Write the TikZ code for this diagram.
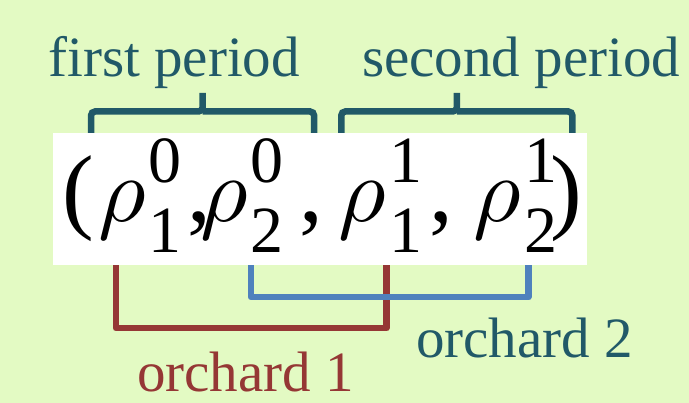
\documentclass[tikz,border=0pt]{standalone}
\usepackage{fontspec}
\usepackage{graphicx}
\setmainfont{Liberation Serif}
\usetikzlibrary{positioning,calc}
\definecolor{bggreen}{HTML}{E3FAC3}
\definecolor{periodteal}{HTML}{215968}
\definecolor{orchardred}{HTML}{953735}
\definecolor{orchardblue}{HTML}{4F81BD}
\newcommand{\scr}{\fontsize{66}{66}\selectfont}
\newcommand{\rhoterm}[2]{\scalebox{9.2}{\fontsize{10}{12}\selectfont$\rho$}\hspace{3pt}%
  \rlap{\raisebox{39pt}{\scr #2}}\raisebox{-31pt}{\scr #1}}

\begin{document}
\begin{tikzpicture}[x=1pt,y=-1pt,
    words/.style={font=\fontsize{57}{60}\selectfont, inner sep=0pt, anchor=base west},
    part/.style={font=\fontsize{95}{100}\selectfont, inner sep=0pt, anchor=base west},
    brace/.style={line width=6.5pt, periodteal, rounded corners=4pt},
    link/.style={line width=6.5pt, line join=round}]

  \useasboundingbox (0,0) rectangle (689,403);
  \fill[bggreen] (0,0) rectangle (689,403);

  % ---- the white strip with the vector ----
  \node[fill=white, minimum width=534pt, minimum height=132pt, inner sep=0pt]
    (box) at (320,199) {};
  \node[part] (lp)  at (62,222) {(};
  \node[part] (r10) at ([xshift=4pt]lp.base east)    {\rhoterm{1}{0}};
  \node[part] (c1)  at ([xshift=5pt]r10.base east)   {,};
  \node[part] (r20) at ([xshift=-11pt]c1.base east)  {\rhoterm{2}{0}};
  \node[part] (c2)  at ([xshift=15pt]r20.base east)  {,};
  \node[part] (r11) at ([xshift=15pt]c2.base east)   {\rhoterm{1}{1}};
  \node[part] (c3)  at ([xshift=7pt]r11.base east)   {,};
  \node[part] (r21) at ([xshift=20pt]c3.base east)   {\rhoterm{2}{1}};
  \node[part] (rp)  at ([xshift=-7pt]r21.base east)  {)};

  % ---- periods above ----
  \node[words, periodteal] (first)  at (48,77)  {first period};
  \node[words, periodteal] (second) at (362,77) {second period};
  \coordinate (b1l) at ([xshift=-7pt]r10.west |- box.north);
  \coordinate (b1r) at ([xshift=15pt]c2.west |- box.north);
  \coordinate (b2l) at ([xshift=3pt]r11.west |- box.north);
  \coordinate (b2r) at ([xshift=-10pt]rp.east |- box.north);
  \coordinate (t1) at ($(b1l)!0.5!(b1r)$);
  \coordinate (t2) at ($(b2l)!0.5!(b2r)$);
  \draw[brace] (b1l) |- (t1 |- 0,111.5) -- (t1 |- 0,93);
  \draw[brace] (b1r) |- (t1 |- 0,111.5);
  \draw[brace] (b2l) |- (t2 |- 0,111.5) -- (t2 |- 0,93);
  \draw[brace] (b2r) |- (t2 |- 0,111.5);

  % ---- orchards below ----
  \draw[link, orchardred] ([xshift=18pt]r10.west |- box.south) -- ++(0,63)
    -| ([xshift=48pt]r11.west |- box.south);
  \draw[link, orchardblue] ([xshift=51pt]r20.west |- box.south) -- ++(0,32)
    -| ([xshift=55pt]r21.west |- box.south);
  \node[words, orchardred] (orch1) at (137,392) {orchard 1};
  \node[words, periodteal] (orch2) at (416,358) {orchard 2};
\end{tikzpicture}
\end{document}
